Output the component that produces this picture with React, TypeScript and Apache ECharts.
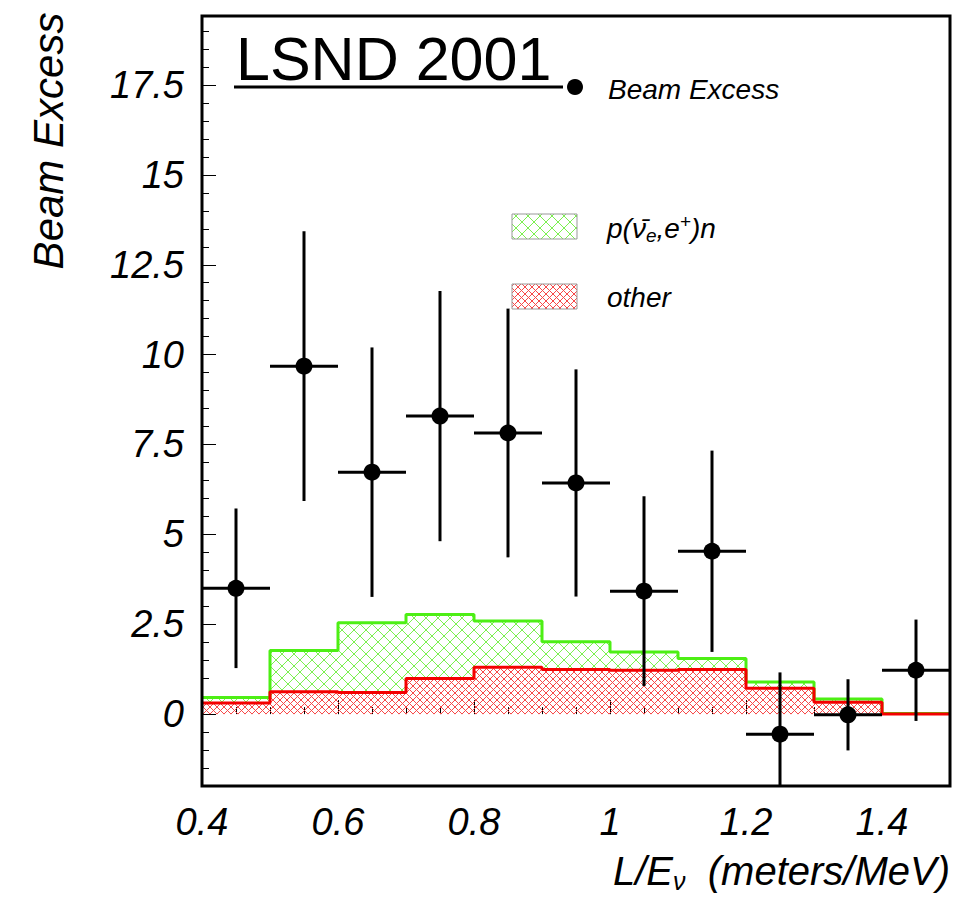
import React, { useEffect, useRef } from "react";
import * as echarts from "echarts";

// ---- data ----
const binEdges = [0.4, 0.5, 0.6, 0.7, 0.8, 0.9, 1.0, 1.1, 1.2, 1.3, 1.4, 1.5];
const binCenters = [0.45, 0.55, 0.65, 0.75, 0.85, 0.95, 1.05, 1.15, 1.25, 1.35, 1.45];
const beamExcess = [3.5, 9.68, 6.73, 8.29, 7.82, 6.43, 3.42, 4.53, -0.56, -0.02, 1.22];
const beamError = [2.22, 3.75, 3.47, 3.48, 3.46, 3.16, 2.64, 2.8, 1.72, 0.99, 1.41];
const totalExpected = [0.46, 1.77, 2.54, 2.77, 2.59, 2.01, 1.73, 1.55, 0.89, 0.42, 0.02];
const otherBkg = [0.31, 0.62, 0.6, 0.99, 1.3, 1.24, 1.22, 1.24, 0.72, 0.33, 0.0];
const xLabelValues = [0.4, 0.6, 0.8, 1.0, 1.2, 1.4];
const xMinorTicks = [0.45, 0.5, 0.55, 0.6, 0.65, 0.7, 0.75, 0.8, 0.85, 0.9, 0.95, 1.0, 1.05, 1.1, 1.15, 1.2, 1.25, 1.3, 1.35, 1.4, 1.45];
const yLabelValues = [0, 2.5, 5, 7.5, 10, 12.5, 15, 17.5];
const yMinorTicks = [-1.5, -1, -0.5, 0, 0.5, 1, 1.5, 2, 2.5, 3, 3.5, 4, 4.5, 5, 5.5, 6, 6.5, 7, 7.5, 8, 8.5, 9, 9.5, 10, 10.5, 11, 11.5, 12, 12.5, 13, 13.5, 14, 14.5, 15, 15.5, 16, 16.5, 17, 17.5, 18, 18.5, 19];

const GREEN_LINE = "#4def14";
const GREEN_HATCH = "#7bf04f";
const RED_LINE = "#f40000";
const RED_HATCH = "#f74848";
const FONT = "Liberation Sans";

function hatchLines(xa: number, xb: number, ya: number, yb: number, step: number, color: string, lw: number) {
  const out: any[] = [];
  const mk = (x1: number, y1: number, x2: number, y2: number) => ({
    type: "line",
    silent: true,
    shape: { x1, y1, x2, y2 },
    style: { stroke: color, lineWidth: lw },
  });
  let c0 = Math.ceil((xa - yb) / step) * step;
  for (let c = c0; c <= xb - ya; c += step) {
    const y1 = Math.max(ya, xa - c);
    const y2 = Math.min(yb, xb - c);
    if (y2 > y1) out.push(mk(y1 + c, y1, y2 + c, y2));
  }
  c0 = Math.ceil((xa + ya) / step) * step;
  for (let c = c0; c <= xb + yb; c += step) {
    const y1 = Math.max(ya, c - xb);
    const y2 = Math.min(yb, c - xa);
    if (y2 > y1) out.push(mk(c - y1, y1, c - y2, y2));
  }
  return out;
}

function stepData(vals: number[]) {
  const pts: number[][] = [];
  vals.forEach((v, i) => {
    pts.push([binEdges[i], v]);
    pts.push([binEdges[i + 1], v]);
  });
  return pts;
}

function hatchSeries(lows: number[], highs: number[], step: number, color: string) {
  return {
    type: "custom",
    clip: true,
    silent: true,
    encode: { x: [0, 1], y: [2, 3] },
    data: lows.map((lo, i) => [binEdges[i], binEdges[i + 1], lo, Math.max(lo, highs[i])]),
    renderItem: (_p: any, api: any) => {
      const p0 = api.coord([api.value(0), api.value(3)]);
      const p1 = api.coord([api.value(1), api.value(2)]);
      return { type: "group", children: hatchLines(p0[0], p1[0], p0[1], p1[1], step, color, 1) };
    },
  };
}

export default function App() {
  const ref = useRef<HTMLDivElement>(null);
  useEffect(() => {
    if (!ref.current) return;
    const chart = echarts.init(ref.current, undefined, { renderer: "svg" });
    const zeros = binCenters.map(() => 0);
    const labelFont = { fontFamily: FONT, fontStyle: "italic", fontSize: 38, color: "#000" };
    const option: any = {
      animation: false,
      backgroundColor: "#fff",
      grid: { left: 202, right: 4, top: 16, bottom: 120, show: true, borderColor: "#000", borderWidth: 3, backgroundColor: "transparent", z: 10 },
      xAxis: [
        {
          type: "value", min: 0.4, max: 1.5, position: "bottom",
          axisLine: { show: false },
          splitLine: { show: false },
          axisTick: { show: true, inside: true, length: 14, customValues: xLabelValues, lineStyle: { color: "#000", width: 1 } },
          axisLabel: { ...labelFont, margin: 17, customValues: xLabelValues, formatter: (v: number) => String(+v.toFixed(1)) },
        },
        {
          type: "value", min: 0.4, max: 1.5, position: "bottom",
          axisLine: { show: false }, splitLine: { show: false }, axisLabel: { show: false },
          axisTick: { show: true, inside: true, length: 7, customValues: xMinorTicks, lineStyle: { color: "#000", width: 1 } },
        },
      ],
      yAxis: [
        {
          type: "value", min: -2, max: 19.42, position: "left",
          axisLine: { show: false }, splitLine: { show: false },
          axisTick: { show: true, inside: true, length: 14, customValues: yLabelValues, lineStyle: { color: "#000", width: 1 } },
          axisLabel: { ...labelFont, margin: 18, customValues: yLabelValues, formatter: (v: number) => String(v) },
        },
        {
          type: "value", min: -2, max: 19.42, position: "left",
          axisLine: { show: false }, splitLine: { show: false }, axisLabel: { show: false },
          axisTick: { show: true, inside: true, length: 7, customValues: yMinorTicks, lineStyle: { color: "#000", width: 1 } },
        },
      ],
      series: [
        hatchSeries(otherBkg, totalExpected, 12, GREEN_HATCH),
        hatchSeries(zeros, otherBkg, 7, RED_HATCH),
        {
          type: "line", data: stepData(totalExpected), symbol: "none", silent: true,
          lineStyle: { color: GREEN_LINE, width: 3 }, z: 3,
        },
        {
          type: "line", data: stepData(otherBkg), symbol: "none", silent: true,
          lineStyle: { color: RED_LINE, width: 3 }, z: 4,
        },
        {
          type: "custom", clip: true, silent: true, z: 5,
          encode: { x: 0, y: 1 },
          data: binCenters.map((x, i) => [x, beamExcess[i], beamError[i]]),
          renderItem: (_p: any, api: any) => {
            const x = api.value(0), y = api.value(1), e = api.value(2);
            const hw = (binEdges[1] - binEdges[0]) / 2;
            const a = api.coord([x - hw, y]), b = api.coord([x + hw, y]);
            const c = api.coord([x, y - e]), d = api.coord([x, y + e]);
            return {
              type: "group",
              children: [
                { type: "line", shape: { x1: a[0], y1: a[1], x2: b[0], y2: b[1] }, style: { stroke: "#000", lineWidth: 3 } },
                { type: "line", shape: { x1: c[0], y1: c[1], x2: d[0], y2: d[1] }, style: { stroke: "#000", lineWidth: 3 } },
              ],
            };
          },
        },
        {
          type: "scatter", z: 6, silent: true,
          data: binCenters.map((x, i) => [x, beamExcess[i]]),
          symbol: "circle", symbolSize: 17, itemStyle: { color: "#000", opacity: 1 },
        },
      ],
      graphic: [
        { type: "text", x: 236, y: 59, style: { text: "LSND 2001", font: `61px '${FONT}'`, fill: "#000", textAlign: "left", textVerticalAlign: "middle" }, z: 20 },
        { type: "line", shape: { x1: 234, y1: 87, x2: 563, y2: 87 }, style: { stroke: "#000", lineWidth: 3 }, z: 20 },
        { type: "circle", shape: { cx: 575, cy: 87, r: 8 }, style: { fill: "#000" }, z: 20 },
        { type: "text", x: 608, y: 89, style: { text: "Beam Excess", font: `italic 28px '${FONT}'`, fill: "#000", textAlign: "left", textVerticalAlign: "middle" }, z: 20 },
        {
          type: "group", z: 20,
          children: [
            ...hatchLines(512, 577, 214, 239, 12, GREEN_HATCH, 1),
            { type: "rect", shape: { x: 512, y: 214, width: 65, height: 25 }, style: { fill: "none", stroke: "#999", lineWidth: 1 } },
            ...hatchLines(512, 577, 284, 309, 7, RED_HATCH, 1),
            { type: "rect", shape: { x: 512, y: 284, width: 65, height: 25 }, style: { fill: "none", stroke: "#999", lineWidth: 1 } },
          ],
        },
        {
          type: "text", x: 607, y: 228, z: 20,
          style: {
            text: "p(ν\u0304{sub|e},e{sup|+})n",
            font: `italic 28px '${FONT}'`, fill: "#000", textAlign: "left", textVerticalAlign: "middle",
            rich: {
              sub: { fontFamily: FONT, fontStyle: "italic", fontSize: 19, verticalAlign: "bottom", padding: [14, 0, 0, 0], fill: "#000" },
              sup: { fontFamily: FONT, fontStyle: "italic", fontSize: 19, verticalAlign: "top", padding: [0, 0, 12, 0], fill: "#000" },
            },
          },
        },
        { type: "text", x: 607, y: 297, style: { text: "other", font: `italic 28px '${FONT}'`, fill: "#000", textAlign: "left", textVerticalAlign: "middle" }, z: 20 },
        { type: "text", x: 48, y: 141, rotation: Math.PI / 2, style: { text: "Beam Excess", font: `italic 42px '${FONT}'`, fill: "#000", textAlign: "center", textVerticalAlign: "middle" }, z: 20 },
        {
          type: "text", x: 950, y: 871, z: 20,
          style: {
            text: "L/E{sub|ν}  (meters/MeV)",
            font: `italic 40px '${FONT}'`, fill: "#000", textAlign: "right", textVerticalAlign: "middle",
            rich: { sub: { fontFamily: FONT, fontStyle: "italic", fontSize: 25, verticalAlign: "bottom", padding: [20, 0, 0, 0], fill: "#000" } },
          },
        },
      ],
    };
    chart.setOption(option);
    return () => chart.dispose();
  }, []);
  return <div ref={ref} style={{ position: "fixed", left: 0, top: 0, width: 954, height: 906, background: "#fff" }} />;
}
